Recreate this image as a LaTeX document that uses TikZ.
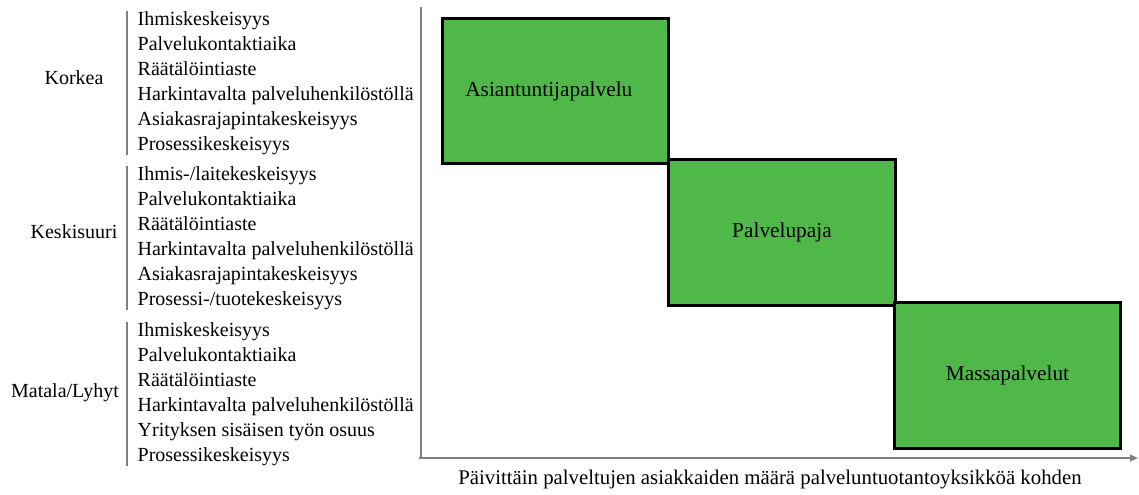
\documentclass[tikz,border=0pt]{standalone}
\usepackage{fontspec}
\setmainfont{Liberation Serif}
\usetikzlibrary{positioning, arrows.meta}
\definecolor{svGreen}{HTML}{50B848}
\definecolor{svAxis}{HTML}{7F7F7F}
\tikzset{
  sv/.style={x=0.75pt, y=-0.75pt, font=\fontsize{15}{18.75}\selectfont, line width=1pt},
  lvl/.style={inner sep=0pt},
  items/.style={align=left, inner xsep=7.5pt, inner ysep=0pt, anchor=west},
  bar/.style={draw=svAxis, line width=1.1pt},
  svc/.style={draw, line width=2.2pt, fill=svGreen, minimum width=170pt, minimum height=109pt, font=\fontsize{16}{19}\selectfont},
  axis/.style={draw=svAxis, line width=1.4pt},
  arr/.style={axis, -{Triangle[length=6pt, width=5pt]}},
}

\begin{document}
\begin{tikzpicture}[
  sv,
]
\useasboundingbox (0,0) rectangle (1139,494);

% attribute lists, one per level
\node[items] (hi) at (127,83) {Ihmiskeskeisyys\\Palvelukontaktiaika\\Räätälöintiaste\\Harkintavalta palveluhenkilöstöllä\\Asiakasrajapintakeskeisyys\\Prosessikeskeisyys};
\node[items] (mid) at (127,238) {Ihmis-/laitekeskeisyys\\Palvelukontaktiaika\\Räätälöintiaste\\Harkintavalta palveluhenkilöstöllä\\Asiakasrajapintakeskeisyys\\Prosessi-/tuotekeskeisyys};
\node[items] (lo) at (127,394) {Ihmiskeskeisyys\\Palvelukontaktiaika\\Räätälöintiaste\\Harkintavalta palveluhenkilöstöllä\\Yrityksen sisäisen työn osuus\\Prosessikeskeisyys};
\draw[bar] (hi.north west) -- (hi.south west);
\draw[bar] (mid.north west) -- (mid.south west);
\draw[bar] (lo.north west) -- (lo.south west);

\node[lvl] (hiLbl) at (74,78) {Korkea};
\node[lvl] (midLbl) at (74,232) {Keskisuuri};
\node[lvl] (loLbl) at (65,393) {Matala/Lyhyt};

% axes
\coordinate (ytop) at (421,7);
\coordinate (origin) at (421,458);
\coordinate (xend) at (1138,458);
\draw[axis] (ytop) -- (origin);
\draw[arr] ([xshift=-1.4pt]origin) -- (xend);
\node[font=\fontsize{15.6}{18}\selectfont] (xlbl) at (770,480) {Päivittäin palveltujen asiakkaiden määrä palveluntuotantoyksikköä kohden};

% service types
\node[svc] (expert) at (555.5,91) {\hspace*{-10pt}Asiantuntijapalvelu};
\node[svc] (shop) at (782,232.5) {Palvelupaja};
\node[svc] (mass) at (1007.5,375.5) {Massapalvelut};
\end{tikzpicture}
\end{document}
